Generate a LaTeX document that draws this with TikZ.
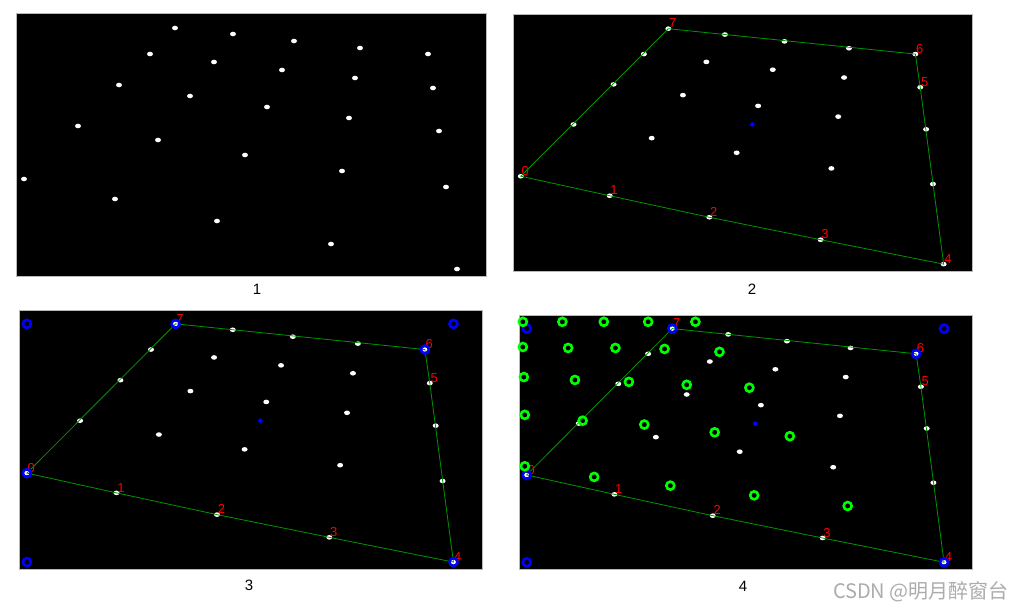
\documentclass[tikz,border=0pt]{standalone}
\usepackage{fontspec}
\setmainfont{Liberation Sans}
\newfontfamily\cjkfont{Noto Sans CJK SC}
\usepackage{xcolor}
\usetikzlibrary{positioning,shapes.geometric}

\definecolor{rimgreen}{RGB}{0,150,0}
\definecolor{ringgreen}{RGB}{0,255,0}
\definecolor{numred}{RGB}{255,0,0}

% blob centres, in the frame of the first image (470 x 262)
\newcommand{\spotlist}{217/20,134/40,198/48,103/71,174/82,62/112,142/126,278/27,344/34,266/56,339/64,251/93,333/104,423/117,229/141,326/157,430/173}
\newcommand{\rimlist}{0/8/165,1/99/185,2/201/207,3/315/230,4/441/255,5/417/74,6/412/40,7/159/14}
\newcommand{\gridlist}{4/7,45/7,88/7,134/7,183/7,4/33,51/34,100/34,151/35,208/38,5/64,58/67,114/69,174/72,239/75,6/103,66/109,130/113,203/121,281/125,6/156,78/167,157/176,244/186,341/197}

\newcommand{\putspots}[1]{%
  \foreach \u/\v [count=\k] in \spotlist {\node[spot] (#1s\k) at (\u,\v) {};}
  \foreach \i/\u/\v in \rimlist {\node[spot] (#1r\i) at (\u,\v) {};}}
\newcommand{\putrim}[1]{%
  \draw[rim] (#1r0.center) -- (#1r1.center) -- (#1r2.center) -- (#1r3.center) -- (#1r4.center)
    -- (#1r5.center) -- (#1r6.center) -- (#1r7.center) -- cycle;
  \node[mid] (#1m) at (245,112) {};
  \foreach \i in {0,...,7} {\node[num] (#1n\i) at (#1r\i.center) {\i};}}
\newcommand{\putrings}[1]{%
  \foreach \u/\v [count=\k] in {8/14,441/14,8/255} {\node[bring] (#1c\k) at (\u,\v) {};}
  \foreach \i in {0,4,6,7} {\node[bring] (#1b\i) at (#1r\i.center) {};}}

\begin{document}
\begin{tikzpicture}[x=1pt,y=-1pt,
  panel/.style={draw=gray!55,line width=1pt,fill=black,inner sep=0pt,outer sep=0pt,anchor=north west},
  spot/.style={ellipse,fill=white,minimum width=6pt,minimum height=4.6pt,inner sep=0pt},
  rim/.style={draw=rimgreen,line width=0.8pt},
  num/.style={text=numred,font=\fontsize{13}{13}\selectfont,anchor=south west,inner sep=0.6pt},
  mid/.style={circle,fill=blue,minimum size=4.5pt,inner sep=0pt},
  bring/.style={circle,draw=blue,line width=2.6pt,minimum size=8pt,inner sep=0pt},
  gring/.style={circle,draw=ringgreen,line width=2.6pt,minimum size=8pt,inner sep=0pt},
  caption/.style={font=\fontsize{15}{15}\selectfont,inner sep=0pt}]
\useasboundingbox (0,0) rectangle (1016,610);
\fill[white] (0,0) rectangle (1016,610);
% the four panels
\node[panel,minimum width=470pt,minimum height=262pt] (pan1) at (16,14) {};
\node[panel,minimum width=459pt,minimum height=256pt] (pan2) at (513,15) {};
\node[panel,minimum width=463pt,minimum height=259pt] (pan3) at (19,310) {};
\node[panel,minimum width=453pt,minimum height=254pt] (pan4) at (519,315) {};
\begin{scope}[shift={(16,14)}]
  \putspots{a}
\end{scope}
\begin{scope}[shift={(513,15)},xscale=0.9766,yscale=0.9771]
  \putspots{b}
  \putrim{b}
\end{scope}
\begin{scope}[shift={(19,310)},xscale=0.9851,yscale=0.9885]
  \putspots{c}
  \putrim{c}
  \putrings{c}
\end{scope}
\begin{scope}[shift={(519,315)},xscale=0.9638,yscale=0.9695]
  \putspots{d}
  \putrim{d}
  \putrings{d}
  \foreach \u/\v [count=\k] in \gridlist {\node[gring] (dg\k) at (\u,\v) {};}
\end{scope}
\node[caption] (cap1) at (257,289) {1};
\node[caption] (cap2) at (752,289) {2};
\node[caption] (cap3) at (249,585) {3};
\node[caption] (cap4) at (743,586) {4};
\node[anchor=east,text=gray!65,font=\cjkfont\fontsize{20}{20}\selectfont,inner sep=0pt] (mark) at (1009,592) {CSDN @明月醉窗台};
\end{tikzpicture}
\end{document}
